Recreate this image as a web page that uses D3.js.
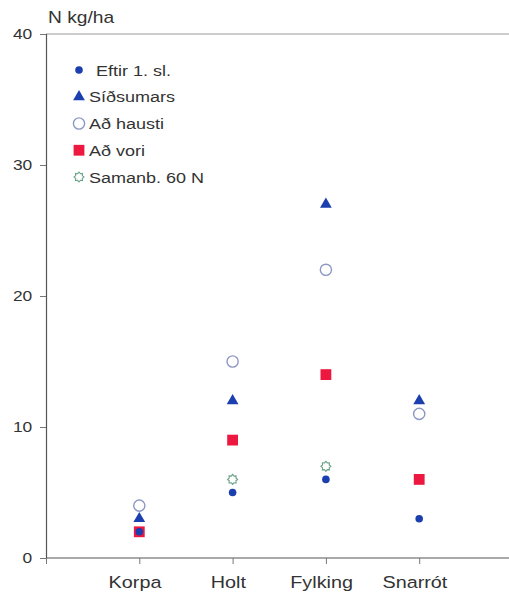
<!DOCTYPE html>
<html>
<head>
<meta charset="utf-8">
<script src="https://cdn.jsdelivr.net/npm/d3@7"></script>
<style>
  body { margin: 0; background: #fff; }
  text { font-family: "Liberation Sans", Arial, sans-serif; fill: #333; }
</style>
</head>
<body>
<div id="chart"></div>
<script>
var categories = ["Korpa", "Holt", "Fylking", "Snarrót"];
var seriesNames = ["Eftir 1. sl.", "Síðsumars", "Að hausti", "Að vori", "Samanb. 60 N"];
var eftir = [2, 5, 6, 3];
var sidsumars = [3, 12, 27, 12];
var adHausti = [4, 15, 22, 11];
var adVori = [2, 9, 14, 6];
var samanb = [null, 6, 7, null];
var yTicks = [0, 10, 20, 30, 40];

var w = 509, h = 595;
var stretch = 1.2; // the lettering in the picture is a little wide

var svg = d3.select("#chart")
  .append("svg")
  .attr("width", w)
  .attr("height", h);

var x = d3.scaleLinear().domain([0, 5]).range([46, 512.5]);
var y = d3.scaleLinear().domain([0, 40]).range([558, 34]);

// frame top line
svg.append("line")
  .attr("x1", x(0)).attr("x2", w)
  .attr("y1", y(40)).attr("y2", y(40))
  .attr("stroke", "#999").attr("stroke-width", 1.2);

// y axis
var yAxis = svg.append("g")
  .attr("transform", "translate(" + x(0) + ",0)")
  .call(d3.axisLeft(y).tickValues(yTicks).tickSize(6).tickPadding(5.5));
yAxis.select(".domain").attr("stroke", "#555").attr("stroke-width", 1.2);
yAxis.selectAll(".tick line").attr("stroke", "#777");
yAxis.selectAll("text").attr("font-size", 14.5).attr("fill", "#333")
  .attr("transform", "scale(" + stretch + ",1)")
  .attr("font-family", "Liberation Sans, Arial, sans-serif");

// x axis
var xAxis = svg.append("g")
  .attr("transform", "translate(0," + y(0) + ")")
  .call(d3.axisBottom(x).tickValues([0, 1, 2, 3, 4])
    .tickFormat(function(d) { return d === 0 ? "" : categories[d - 1]; })
    .tickSize(6).tickPadding(12));
xAxis.select(".domain").attr("stroke", "#555").attr("stroke-width", 1.2)
  .attr("d", "M" + x(0) + ",0H" + w);
xAxis.selectAll(".tick line").attr("stroke", "#777");
xAxis.selectAll("text").attr("font-size", 16.5).attr("fill", "#333").attr("dx", -4)
  .attr("transform", "scale(" + stretch + ",1)")
  .attr("font-family", "Liberation Sans, Arial, sans-serif");

// axis title
svg.append("g")
  .attr("transform", "translate(48,23) scale(" + stretch + ",1)")
  .append("text")
  .attr("font-size", 16)
  .text("N kg/ha");

var blue = "#1b3fae", red = "#ec1840", ring = "#8c98c4", green = "#6aa486";

function gear(r) {
  var pts = [];
  for (var i = 0; i < 16; i++) {
    var a = i * Math.PI / 8;
    var rr = i % 2 === 0 ? r : r * 0.72;
    pts.push([Math.sin(a) * rr, -Math.cos(a) * rr]);
  }
  return "M" + pts.join("L") + "Z";
}

var markers = [
  { data: eftir, draw: function(g) {
      g.append("circle").attr("r", 3.8).attr("fill", blue); } },
  { data: sidsumars, draw: function(g) {
      g.append("path").attr("d", d3.symbol().type(d3.symbolTriangle).size(60)).attr("fill", blue); } },
  { data: adHausti, draw: function(g) {
      g.append("circle").attr("r", 5.6).attr("fill", "none").attr("stroke", ring).attr("stroke-width", 1.4); } },
  { data: adVori, draw: function(g) {
      g.append("rect").attr("x", -5.4).attr("y", -5.4).attr("width", 10.8).attr("height", 10.8).attr("fill", red); } },
  { data: samanb, draw: function(g) {
      g.append("path").attr("d", gear(5)).attr("fill", "none").attr("stroke", green).attr("stroke-width", 1.1); } }
];

// draw order: squares under dots so the Korpa dot sits on top
var order = [3, 2, 1, 4, 0];
order.forEach(function(k) {
  var m = markers[k];
  svg.append("g").selectAll("g")
    .data(m.data.map(function(v, i) { return { v: v, i: i }; }).filter(function(d) { return d.v !== null; }))
    .enter()
    .append("g")
    .attr("transform", function(d) {
      return "translate(" + x(d.i + 1) + "," + y(d.v) + ")";
    })
    .each(function() { m.draw(d3.select(this)); });
});

// legend
var legend = svg.append("g");
var legendY = d3.scaleLinear().domain([0, 4]).range([70, 177]);
seriesNames.forEach(function(name, k) {
  var row = legend.append("g")
    .attr("transform", "translate(79," + legendY(k) + ")");
  markers[k].draw(row);
  row.append("g")
    .attr("transform", "translate(" + (k === 0 ? 17 : 10) + ",5.5) scale(" + stretch + ",1)")
    .append("text")
    .attr("font-size", 15)
    .text(name);
});
</script>
</body>
</html>
